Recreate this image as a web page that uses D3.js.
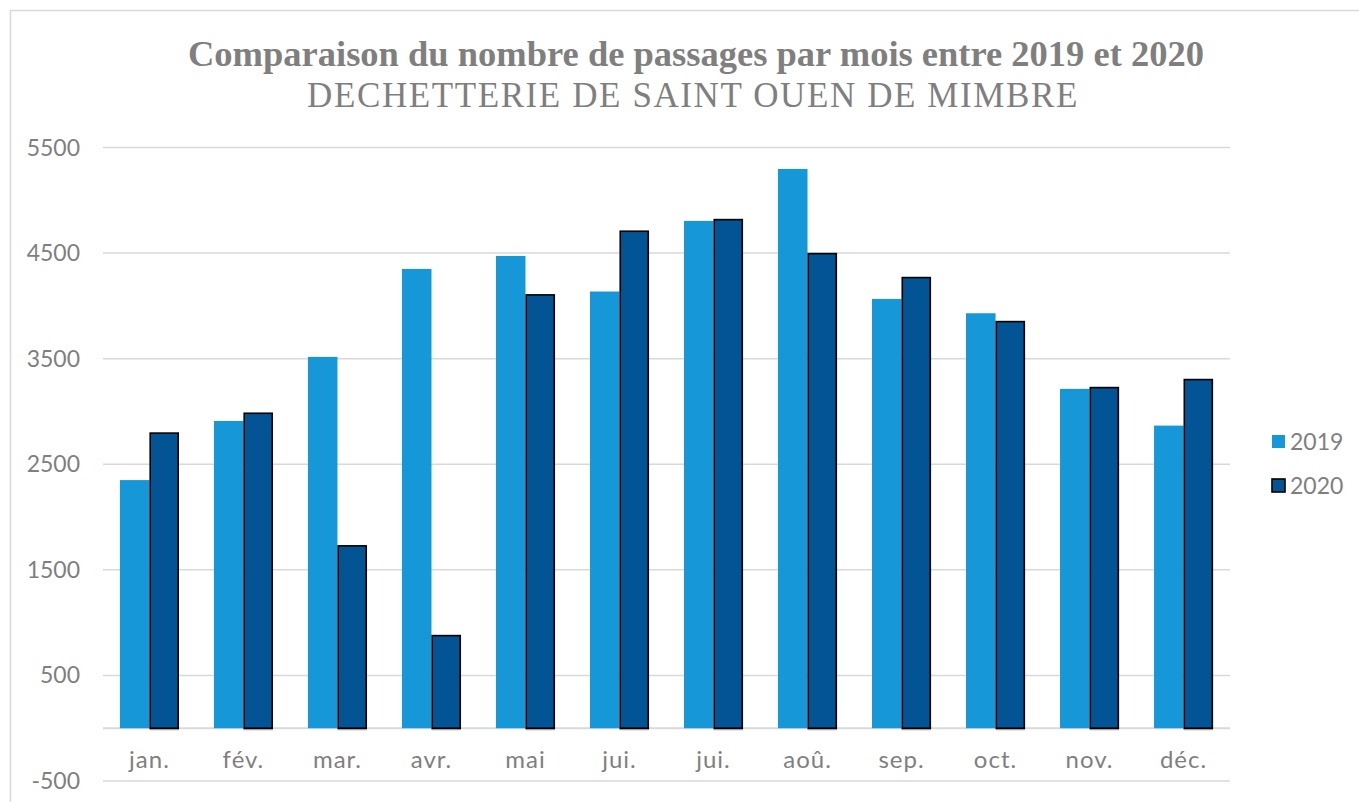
<!DOCTYPE html>
<html>
<head>
<meta charset="utf-8">
<script src="https://cdn.jsdelivr.net/npm/d3@7"></script>
<style>
  body { margin: 0; background: #fff; }
  svg text { fill: #7f7f7f; }
</style>
</head>
<body>
<svg id="chart" width="1359" height="802"></svg>
<script>
const months = ["jan.", "fév.", "mar.", "avr.", "mai", "jui.", "jui.", "aoû.", "sep.", "oct.", "nov.", "déc."];
const years = ["2019", "2020"];
const values2019 = [2350, 2910, 3517, 4350, 4473, 4136, 4805, 5297, 4066, 3930, 3214, 2866];
const values2020 = [2795, 2983, 1727, 877, 4104, 4707, 4817, 4495, 4268, 3851, 3226, 3302];
const yTicks = [-500, 500, 1500, 2500, 3500, 4500, 5500];

const colors = { "2019": "#1597d8", "2020": "#035494" };
const labelFont = "'Century Gothic', Lato, sans-serif";

const svg = d3.select("#chart");

// outer frame
svg.append("rect")
  .attr("x", 10.5).attr("y", 10.5)
  .attr("width", 1359).attr("height", 802)
  .attr("fill", "none")
  .attr("stroke", "#d9d9d9")
  .attr("stroke-width", 1.5);

// titles
svg.append("text")
  .attr("x", 696).attr("y", 66)
  .attr("text-anchor", "middle")
  .style("font-family", "'Liberation Serif', serif")
  .style("font-weight", "bold")
  .style("font-size", "36.5px")
  .text("Comparaison du nombre de passages par mois entre 2019 et 2020");

svg.append("text")
  .attr("x", 693).attr("y", 107)
  .attr("text-anchor", "middle")
  .style("font-family", "'Liberation Serif', serif")
  .style("font-size", "35px")
  .style("letter-spacing", "1.6px")
  .text("DECHETTERIE DE SAINT OUEN DE MIMBRE");

// scales
const x = d3.scaleBand()
  .domain(d3.range(months.length))
  .range([103, 1230])
  .paddingInner(0.372)
  .paddingOuter(0.18);

const xs = d3.scaleBand()
  .domain(years)
  .range([0, x.bandwidth()]);

const y = d3.scaleLinear()
  .domain([-500, 5500])
  .range([781, 147.5]);

// gridlines
svg.append("g")
  .selectAll("line")
  .data(yTicks)
  .join("line")
  .attr("x1", 103).attr("x2", 1230)
  .attr("y1", d => y(d)).attr("y2", d => y(d))
  .attr("stroke", "#d9d9d9")
  .attr("stroke-width", 1.5);

// zero axis line
svg.append("line")
  .attr("x1", 103).attr("x2", 1230)
  .attr("y1", y(0)).attr("y2", y(0))
  .attr("stroke", "#d9d9d9")
  .attr("stroke-width", 2);

// y tick labels
svg.append("g")
  .selectAll("text")
  .data(yTicks)
  .join("text")
  .attr("x", 80)
  .attr("y", d => y(d))
  .attr("dy", "0.35em")
  .attr("text-anchor", "end")
  .style("font-family", labelFont)
  .style("font-size", "23px")
  .text(d => d);

// bars
const rows = months.map((m, i) => ({ i, m, "2019": values2019[i], "2020": values2020[i] }));

const groups = svg.append("g")
  .selectAll("g")
  .data(rows)
  .join("g")
  .attr("transform", d => `translate(${x(d.i)},0)`);

groups.selectAll("rect")
  .data(d => years.map(yr => ({ yr, v: d[yr] })))
  .join("rect")
  .attr("x", d => xs(d.yr) + (d.yr === "2020" ? 0.75 : 0))
  .attr("width", d => xs.bandwidth() - (d.yr === "2020" ? 1.5 : 0))
  .attr("y", d => y(d.v))
  .attr("height", d => y(0) - y(d.v))
  .attr("fill", d => colors[d.yr])
  .attr("stroke", d => d.yr === "2020" ? "#000" : "none")
  .attr("stroke-width", 1.6);

// grey base marks under 2020 bars
groups.append("line")
  .attr("x1", xs("2020")).attr("x2", xs("2020") + xs.bandwidth())
  .attr("y1", y(0) + 1.5).attr("y2", y(0) + 1.5)
  .attr("stroke", "#8c8c8c")
  .attr("stroke-width", 1);

// month labels
svg.append("g")
  .selectAll("text")
  .data(months)
  .join("text")
  .attr("x", (d, i) => x(i) + x.bandwidth() / 2)
  .attr("y", 768)
  .attr("text-anchor", "middle")
  .style("font-family", labelFont)
  .style("font-size", "24px")
  .style("letter-spacing", "1px")
  .text(d => d);

// legend
const legend = svg.append("g")
  .selectAll("g")
  .data(years)
  .join("g")
  .attr("transform", (d, i) => `translate(1272,${435 + i * 44})`);

legend.append("rect")
  .attr("width", 13).attr("height", 13)
  .attr("fill", d => colors[d])
  .attr("stroke", d => d === "2020" ? "#000" : "none")
  .attr("stroke-width", 1.6);

legend.append("text")
  .attr("x", 18).attr("y", 15)
  .style("font-family", labelFont)
  .style("font-size", "23px")
  .text(d => d);
</script>
</body>
</html>
